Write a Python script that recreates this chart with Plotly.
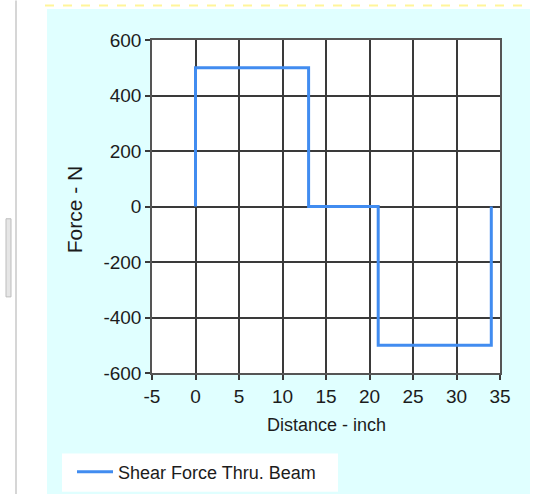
import plotly.graph_objects as go

# ---- data ----
distance = [0, 0, 13, 13, 21, 21, 34, 34]
shear = [0, 500, 500, 0, 0, -500, -500, 0]
x_ticks = [-5, 0, 5, 10, 15, 20, 25, 30, 35]
y_ticks = [-600, -400, -200, 0, 200, 400, 600]
series_name = "Shear Force Thru. Beam"
x_title = "Distance - inch"
y_title = "Force - N"

W, H = 558, 494
K = 503 / 494  # vertical compensation for the capture
HF = round(H * K)
L, R, T, B = 152, 500, 39.5, 372  # plot area in reference pixels


def px(xp):
    return (xp - L) / (R - L)


def py(yp):
    return (B - yp) / (B - T)


FONT = "Liberation Sans, Arial, sans-serif"
TXT = "#1c1c1c"

fig = go.Figure()
fig.add_trace(go.Scatter(
    x=distance, y=shear, mode="lines", name=series_name,
    line=dict(color="#418CF0", width=3), showlegend=True,
))

shapes = [
    dict(type="rect", xref="paper", yref="paper", x0=px(47), x1=px(530), y0=py(8.5), y1=py(500),
         fillcolor="#E0FFFF", line=dict(width=0), layer="below"),
    dict(type="rect", xref="paper", yref="paper", x0=0, x1=1, y0=0, y1=1,
         fillcolor="white", line=dict(width=0), layer="below"),
    dict(type="rect", xref="paper", yref="paper", x0=px(62), x1=px(338), y0=py(452.5), y1=py(490.5),
         fillcolor="white", line=dict(width=0), layer="below"),
    dict(type="line", xref="paper", yref="paper", x0=px(45), x1=px(530), y0=py(5), y1=py(5),
         line=dict(color="#FFF59A", width=2, dash="dash"), layer="below"),
    dict(type="line", xref="paper", yref="paper", x0=px(16), x1=px(16), y0=py(0), y1=py(500),
         line=dict(color="#C8C8C8", width=1.5), layer="below"),
    dict(type="rect", xref="paper", yref="paper", x0=px(6), x1=px(11), y0=py(218), y1=py(296),
         fillcolor="#E6E6E6", line=dict(color="#BDBDBD", width=1), layer="below"),
]

annotations = [
    dict(text=x_title, xref="paper", yref="paper", x=px(326), y=py(424),
         xanchor="center", yanchor="middle", showarrow=False,
         font=dict(family=FONT, size=18, color=TXT)),
    dict(text=y_title, xref="paper", yref="paper", x=px(74), y=py(208.5),
         xanchor="center", yanchor="middle", showarrow=False, textangle=-90,
         font=dict(family=FONT, size=21, color=TXT)),
]

axis_common = dict(
    showgrid=True, gridcolor="#3A3A3A", gridwidth=1.5,
    showline=True, linecolor="#555555", linewidth=1.5, mirror=True,
    ticks="outside", ticklen=5, tickcolor="#3A3A3A", tickwidth=1.5,
    zeroline=False,
    tickfont=dict(family=FONT, size=19, color=TXT),
)

fig.update_layout(
    width=W, height=HF,
    margin=dict(l=L, r=W - R, t=round(T * K), b=HF - round(B * K), pad=0),
    paper_bgcolor="white", plot_bgcolor="white",
    xaxis=dict(range=[-5, 35], tickvals=x_ticks, ticktext=[str(v) for v in x_ticks], **axis_common),
    yaxis=dict(range=[-600, 600], tickvals=y_ticks, ticktext=[str(v) for v in y_ticks], **axis_common),
    shapes=shapes,
    annotations=annotations,
    legend=dict(x=px(72), y=py(471), xanchor="left", yanchor="middle",
                bgcolor="rgba(0,0,0,0)", font=dict(family=FONT, size=18, color=TXT),
                itemwidth=36),
    showlegend=True,
)

css_fix = (
    "var s=document.createElement('style');"
    "s.textContent='html,body{margin:0;padding:0;overflow:hidden;}';"
    "document.head.appendChild(s);"
)
fig.write_html("out.html", config={"displayModeBar": False}, post_script=css_fix)
